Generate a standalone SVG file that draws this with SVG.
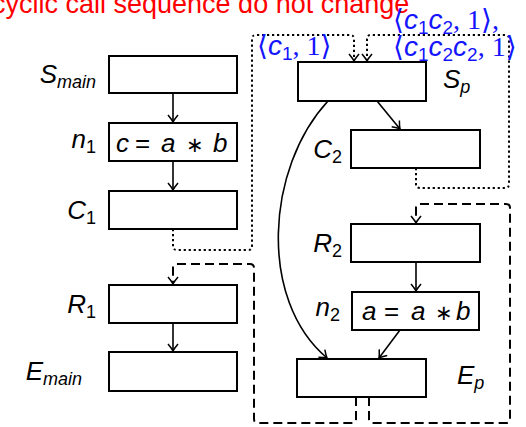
<svg xmlns="http://www.w3.org/2000/svg" width="526" height="427" viewBox="0 0 526 427">
<defs>
<style>
.box{fill:#fff;stroke:#000;stroke-width:2}
.lbl{font-family:"Liberation Sans",Arial,sans-serif;font-style:italic;font-size:26px;fill:#000}
.sub{font-size:18px}
.up{font-style:normal}
.rm{font-family:"Liberation Serif","Times New Roman",serif;font-style:normal}
.sym{font-family:"DejaVu Sans",sans-serif;font-style:normal}
.ast{font-family:"DejaVu Sans",sans-serif;font-style:normal;font-size:21px}
.blue{fill:#1414ff;font-size:28px}
.blue .sub{font-size:19px}
.red{font-family:"Liberation Sans",Arial,sans-serif;font-size:27px;fill:#ff0000}
.edge{fill:none;stroke:#000;stroke-width:1.6}
.dot{fill:none;stroke:#000;stroke-width:2;stroke-dasharray:2.2 2.8}
.dash{fill:none;stroke:#000;stroke-width:2;stroke-dasharray:9 5}
</style>
<marker id="to" viewBox="-9 -7 11 14" refX="0" refY="0" markerWidth="11" markerHeight="14" markerUnits="userSpaceOnUse" orient="auto">
<path d="M-7,-5 Q-2.5,-1.2 0,0 Q-2.5,1.2 -7,5" fill="none" stroke="#000" stroke-width="1.5" stroke-dasharray="none"/>
</marker>
</defs>

<text class="red" x="-8" y="13">cyclic call sequence do not change</text>

<g id="connectors">
<path class="edge" d="M173,93 V122" marker-end="url(#to)"/>
<path class="edge" d="M173,161 V190" marker-end="url(#to)"/>
<path class="edge" d="M173,323 V351" marker-end="url(#to)"/>
<path class="edge" d="M377,101 L400,129" marker-end="url(#to)"/>
<path class="edge" d="M416,262 V291" marker-end="url(#to)"/>
<path class="edge" d="M400,330 L379,358" marker-end="url(#to)"/>
<path class="edge" d="M328,101 C266,168 258,300 327,358" marker-end="url(#to)"/>
<path class="dot" d="M173,229 V246 Q173,250 177,250 H248 Q252,250 252,246 V39 Q252,35 256,35 H350 Q354,35 354,39 V61" marker-end="url(#to)"/>
<path class="dot" d="M416,168 V184 Q416,188 420,188 H505 Q509,188 509,184 V39 Q509,35 505,35 H371 Q367,35 367,39 V61" marker-end="url(#to)"/>
<path class="dash" d="M356,397 V419 Q356,423 352,423 H258 Q254,423 254,419 V268 Q254,264 250,264 H177 Q173,264 173,268 V284" marker-end="url(#to)"/>
<path class="dash" d="M369,397 V419 Q369,423 373,423 H506 Q510,423 510,419 V208 Q510,204 506,204 H420 Q416,204 416,208 V223" marker-end="url(#to)"/>
</g>

<g id="S_main"><rect class="box" x="109" y="56" width="128" height="37"/>
<text class="lbl" x="96" y="83" text-anchor="end">S<tspan class="sub" dy="5">main</tspan></text></g>
<g id="n1"><rect class="box" x="109" y="123" width="128" height="38"/>
<text class="lbl" x="96" y="148" text-anchor="end">n<tspan class="sub up" dy="5">1</tspan></text>
<text class="lbl" y="152"><tspan x="116">c</tspan><tspan class="up" x="135">=</tspan><tspan x="161">a</tspan><tspan class="ast" x="186">∗</tspan><tspan x="213">b</tspan></text></g>
<g id="C1"><rect class="box" x="109" y="191" width="128" height="38"/>
<text class="lbl" x="96" y="219" text-anchor="end">C<tspan class="sub up" dy="5">1</tspan></text></g>
<g id="R1"><rect class="box" x="109" y="285" width="128" height="38"/>
<text class="lbl" x="96" y="313" text-anchor="end">R<tspan class="sub up" dy="5">1</tspan></text></g>
<g id="E_main"><rect class="box" x="109" y="352" width="128" height="39"/>
<text class="lbl" x="82" y="380" text-anchor="end">E<tspan class="sub" dy="5">main</tspan></text></g>

<g id="S_p"><rect class="box" x="298" y="62" width="128" height="39"/>
<text class="lbl" x="443" y="88">S<tspan class="sub" dy="5">p</tspan></text></g>
<g id="C2"><rect class="box" x="351" y="130" width="129" height="38"/>
<text class="lbl" x="342" y="158" text-anchor="end">C<tspan class="sub up" dy="5">2</tspan></text></g>
<g id="R2"><rect class="box" x="351" y="224" width="129" height="38"/>
<text class="lbl" x="342" y="252" text-anchor="end">R<tspan class="sub up" dy="5">2</tspan></text></g>
<g id="n2"><rect class="box" x="352" y="292" width="127" height="38"/>
<text class="lbl" x="340" y="316" text-anchor="end">n<tspan class="sub up" dy="5">2</tspan></text>
<text class="lbl" y="320"><tspan x="362">a</tspan><tspan class="up" x="384">=</tspan><tspan x="411">a</tspan><tspan class="ast" x="435">∗</tspan><tspan x="456">b</tspan></text></g>
<g id="E_p"><rect class="box" x="297" y="359" width="129" height="38"/>
<text class="lbl" x="457" y="384">E<tspan class="sub" dy="5">p</tspan></text></g>

<g id="labels">
<text class="lbl blue" x="257" y="55"><tspan class="sym">⟨</tspan>c<tspan class="sub up" dy="5">1</tspan><tspan class="rm" dy="-5">, 1</tspan><tspan class="sym">⟩</tspan></text>
<text class="lbl blue" x="393" y="29"><tspan class="sym">⟨</tspan>c<tspan class="sub up" dy="5">1</tspan><tspan dy="-5">c</tspan><tspan class="sub up" dy="5">2</tspan><tspan class="rm" dy="-5">, 1</tspan><tspan class="sym">⟩</tspan><tspan class="rm">,</tspan></text>
<text class="lbl blue" x="393" y="56"><tspan class="sym">⟨</tspan>c<tspan class="sub up" dy="5">1</tspan><tspan dy="-5">c</tspan><tspan class="sub up" dy="5">2</tspan><tspan dy="-5">c</tspan><tspan class="sub up" dy="5">2</tspan><tspan class="rm" dy="-5">, 1</tspan><tspan class="sym">⟩</tspan></text>
</g>
</svg>
